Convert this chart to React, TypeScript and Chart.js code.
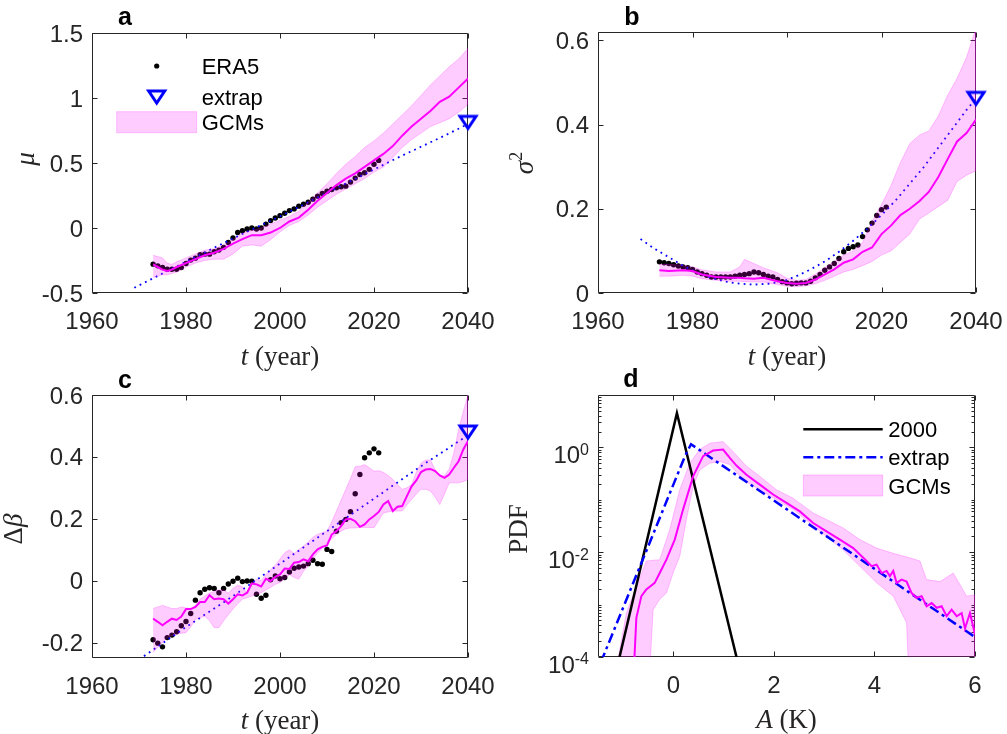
import React, { useEffect, useRef } from 'react';
import { Chart, registerables } from 'chart.js';
Chart.register(...registerables);

// ---------------- DATA ----------------
const ERA5_YEARS = [1973, 1974, 1975, 1976, 1977, 1978, 1979, 1980, 1981, 1982, 1983, 1984, 1985, 1986, 1987, 1988, 1989, 1990, 1991, 1992, 1993, 1994, 1995, 1996, 1997, 1998, 1999, 2000, 2001, 2002, 2003, 2004, 2005, 2006, 2007, 2008, 2009, 2010, 2011, 2012, 2013, 2014, 2015, 2016, 2017, 2018, 2019, 2020, 2021];
const ERA5_MU = [-0.278, -0.291, -0.304, -0.317, -0.317, -0.317, -0.304, -0.273, -0.247, -0.232, -0.206, -0.201, -0.201, -0.183, -0.17, -0.149, -0.111, -0.077, -0.034, -0.021, -0.008, 0.0, -0.008, 0.0, 0.03, 0.057, 0.077, 0.095, 0.113, 0.134, 0.147, 0.168, 0.183, 0.198, 0.222, 0.245, 0.265, 0.283, 0.296, 0.309, 0.317, 0.322, 0.353, 0.384, 0.412, 0.425, 0.451, 0.49, 0.52];
const ERA5_SIGMA2 = [0.074, 0.072, 0.07, 0.067, 0.064, 0.062, 0.06, 0.056, 0.05, 0.046, 0.042, 0.038, 0.038, 0.038, 0.038, 0.038, 0.04, 0.042, 0.044, 0.046, 0.05, 0.048, 0.044, 0.04, 0.038, 0.032, 0.027, 0.024, 0.022, 0.023, 0.024, 0.024, 0.028, 0.036, 0.044, 0.054, 0.062, 0.07, 0.082, 0.098, 0.106, 0.11, 0.114, 0.134, 0.15, 0.166, 0.184, 0.198, 0.204];
const ERA5_DBETA = [-0.191, -0.202, -0.214, -0.184, -0.176, -0.165, -0.146, -0.132, -0.106, -0.063, -0.039, -0.028, -0.023, -0.025, -0.039, -0.025, -0.011, -0.002, 0.008, -0.003, -0.001, -0.002, -0.044, -0.057, -0.047, 0.003, 0.015, 0.006, 0.01, 0.028, 0.04, 0.044, 0.047, 0.055, 0.066, 0.055, 0.053, 0.101, 0.094, 0.16, 0.187, 0.198, 0.223, 0.281, 0.343, 0.397, 0.413, 0.426, 0.413];

// panel a: GCM ensemble
const GCM_A_YEARS = [1973, 1974, 1975, 1976, 1977, 1978, 1980, 1982, 1984, 1986, 1988, 1990, 1992, 1994, 1996, 1998, 2000, 2002, 2004, 2006, 2008, 2010, 2012, 2014, 2016, 2018, 2020, 2022, 2024, 2026, 2028, 2030, 2032, 2034, 2036, 2038, 2040];
const GCM_A_MEAN = [-0.28, -0.3, -0.32, -0.33, -0.32, -0.3, -0.27, -0.24, -0.21, -0.19, -0.16, -0.12, -0.085, -0.055, -0.055, -0.035, 0.0, 0.05, 0.08, 0.14, 0.21, 0.27, 0.33, 0.38, 0.42, 0.47, 0.52, 0.57, 0.63, 0.71, 0.78, 0.84, 0.9, 0.97, 1.01, 1.08, 1.15];
const GCM_A_UPPER = [-0.21, -0.22, -0.23, -0.27, -0.28, -0.26, -0.23, -0.2, -0.17, -0.16, -0.13, -0.09, -0.04, -0.02, 0.0, 0.03, 0.06, 0.09, 0.13, 0.2, 0.27, 0.34, 0.42, 0.49, 0.55, 0.62, 0.67, 0.73, 0.8, 0.87, 0.94, 1.02, 1.1, 1.17, 1.24, 1.3, 1.38];
const GCM_A_LOWER = [-0.38, -0.37, -0.36, -0.36, -0.35, -0.34, -0.3, -0.27, -0.25, -0.24, -0.24, -0.2, -0.14, -0.13, -0.14, -0.09, -0.03, 0.02, 0.05, 0.1, 0.16, 0.21, 0.26, 0.3, 0.34, 0.38, 0.43, 0.47, 0.54, 0.62, 0.68, 0.73, 0.78, 0.81, 0.84, 0.89, 0.95];
const EXTRAP_A_YEARS = [1969, 1975, 1980, 1985, 1990, 1995, 2000, 2005, 2010, 2015, 2020, 2025, 2030, 2035, 2040];
const EXTRAP_A_VALUES = [-0.46, -0.35, -0.26, -0.17, -0.08, 0.005, 0.09, 0.18, 0.27, 0.36, 0.45, 0.54, 0.625, 0.71, 0.8];
const EXTRAP_A_2040 = 0.805;

// panel b
const GCM_B_YEARS = [1973, 1975, 1978, 1980, 1982, 1985, 1988, 1990, 1991, 1993, 1995, 1998, 2000, 2002, 2004, 2006, 2008, 2010, 2012, 2014, 2016, 2018, 2020, 2022, 2024, 2026, 2028, 2030, 2032, 2034, 2036, 2038, 2040];
const GCM_B_MEAN = [0.054, 0.052, 0.054, 0.052, 0.044, 0.038, 0.036, 0.036, 0.035, 0.034, 0.036, 0.028, 0.024, 0.022, 0.024, 0.032, 0.044, 0.056, 0.072, 0.08, 0.098, 0.108, 0.14, 0.16, 0.185, 0.2, 0.218, 0.24, 0.275, 0.318, 0.36, 0.38, 0.412];
const GCM_B_UPPER = [0.068, 0.068, 0.066, 0.062, 0.055, 0.05, 0.05, 0.062, 0.08, 0.07, 0.06, 0.048, 0.035, 0.03, 0.032, 0.045, 0.06, 0.075, 0.09, 0.1, 0.12, 0.17, 0.21, 0.255, 0.31, 0.355, 0.375, 0.385, 0.42, 0.47, 0.51, 0.56, 0.63];
const GCM_B_LOWER = [0.04, 0.04, 0.042, 0.04, 0.034, 0.03, 0.028, 0.028, 0.027, 0.026, 0.026, 0.02, 0.016, 0.015, 0.017, 0.022, 0.03, 0.04, 0.05, 0.056, 0.065, 0.075, 0.09, 0.1, 0.12, 0.14, 0.175, 0.19, 0.205, 0.22, 0.265, 0.28, 0.29];
const EXTRAP_B_YEARS = [1969, 1972, 1975, 1978, 1981, 1984, 1987, 1990, 1993, 1996, 1999, 2002, 2005, 2008, 2011, 2014, 2017, 2020, 2023, 2026, 2029, 2032, 2035, 2038, 2040];
const EXTRAP_B_VALUES = [0.128, 0.105, 0.085, 0.065, 0.048, 0.036, 0.027, 0.022, 0.02, 0.022, 0.027, 0.04, 0.056, 0.075, 0.098, 0.124, 0.153, 0.185, 0.22, 0.26, 0.3, 0.345, 0.39, 0.435, 0.462];
const EXTRAP_B_2040 = 0.46;

// panel c
const GCM_C_YEARS = [1973, 1974, 1975, 1976, 1977, 1978, 1979, 1980, 1981, 1982, 1983, 1984, 1985, 1986, 1987, 1988, 1989, 1990, 1991, 1992, 1993, 1994, 1995, 1996, 1997, 1998, 1999, 2000, 2001, 2002, 2003, 2004, 2005, 2006, 2007, 2008, 2009, 2010, 2011, 2012, 2013, 2014, 2015, 2016, 2017, 2018, 2019, 2020, 2021, 2022, 2023, 2024, 2025, 2026, 2027, 2028, 2029, 2030, 2031, 2032, 2033, 2034, 2035, 2036, 2037, 2038, 2039, 2040];
const GCM_C_MEAN = [-0.123, -0.133, -0.144, -0.133, -0.123, -0.127, -0.116, -0.092, -0.092, -0.085, -0.069, -0.069, -0.047, -0.06, -0.058, -0.06, -0.074, -0.06, -0.044, -0.048, -0.039, -0.009, -0.012, -0.019, 0.006, -0.001, 0.012, 0.02, 0.039, 0.038, 0.058, 0.06, 0.069, 0.063, 0.085, 0.101, 0.109, 0.114, 0.149, 0.16, 0.176, 0.198, 0.2, 0.192, 0.174, 0.182, 0.198, 0.209, 0.222, 0.246, 0.257, 0.225, 0.239, 0.241, 0.273, 0.305, 0.324, 0.351, 0.359, 0.361, 0.354, 0.34, 0.332, 0.343, 0.365, 0.386, 0.424, 0.451];
const GCM_C_UPPER = [-0.09, -0.085, -0.08, -0.085, -0.09, -0.09, -0.085, -0.088, -0.09, -0.08, -0.06, -0.05, -0.04, -0.035, -0.03, -0.03, -0.04, -0.025, -0.015, -0.02, -0.04, -0.01, 0.005, 0.0, 0.02, 0.035, 0.05, 0.07, 0.09, 0.1, 0.088, 0.1, 0.112, 0.125, 0.14, 0.15, 0.155, 0.16, 0.19, 0.225, 0.26, 0.295, 0.33, 0.368, 0.37, 0.375, 0.365, 0.354, 0.355, 0.35, 0.34, 0.327, 0.31, 0.295, 0.3, 0.31, 0.35, 0.38, 0.39, 0.39, 0.36, 0.337, 0.34, 0.36, 0.413, 0.488, 0.547, 0.6];
const GCM_C_LOWER = [-0.232, -0.215, -0.2, -0.185, -0.178, -0.173, -0.17, -0.168, -0.15, -0.125, -0.12, -0.115, -0.13, -0.152, -0.152, -0.13, -0.11, -0.092, -0.075, -0.06, -0.055, -0.05, -0.045, -0.039, -0.03, -0.022, -0.012, -0.006, 0.005, 0.02, 0.01, 0.005, 0.03, 0.047, 0.07, 0.09, 0.105, 0.123, 0.135, 0.15, 0.16, 0.168, 0.17, 0.17, 0.172, 0.172, 0.172, 0.171, 0.195, 0.219, 0.222, 0.225, 0.225, 0.225, 0.245, 0.262, 0.28, 0.295, 0.295, 0.29, 0.27, 0.246, 0.28, 0.316, 0.316, 0.316, 0.32, 0.327];
const EXTRAP_C_YEARS = [1970, 1980, 1990, 2000, 2010, 2020, 2030, 2040];
const EXTRAP_C_VALUES = [-0.255, -0.15, -0.05, 0.055, 0.16, 0.265, 0.37, 0.47];
const EXTRAP_C_2040 = 0.477;

// panel d: PDFs
const Y2000_D_A = [-1.2, 0.07, 1.4];
const Y2000_D_PDF = [3e-5, 4.5, 2.7e-5];
const EXTRAP_D_A = [-1.6, 0.23, 0.35, 6.0];
const EXTRAP_D_PDF = [3.4e-5, 0.68, 1.15, 2.4e-4];
const GCM_D_A = [-0.8, -0.737, -0.637, -0.538, -0.372, -0.272, -0.139, 0.027, 0.192, 0.392, 0.591, 0.79, 0.989, 1.122, 1.254, 1.453, 1.719, 1.984, 2.25, 2.515, 2.781, 3.046, 3.312, 3.577, 3.843, 3.943, 4.042, 4.141, 4.241, 4.307, 4.374, 4.44, 4.54, 4.639, 4.739, 4.838, 4.938, 5.037, 5.137, 5.237, 5.336, 5.436, 5.535, 5.635, 5.734, 5.801, 5.9, 6.0];
const GCM_D_PDF = [3e-5, 5.6e-4, 1.45e-3, 1.95e-3, 2.6e-3, 4.0e-3, 7.2e-3, 0.0174, 0.065, 0.28, 0.68, 0.87, 0.91, 0.63, 0.45, 0.3, 0.195, 0.126, 0.087, 0.06, 0.036, 0.025, 0.0174, 0.012, 0.0068, 0.0054, 0.0058, 0.004, 0.0044, 0.0035, 0.0044, 0.0026, 0.003, 0.00275, 0.00166, 0.00135, 0.00145, 0.00093, 0.00107, 0.00087, 0.00093, 0.0006, 0.0008, 0.0006, 0.00069, 0.00035, 0.00069, 0.00027];
const GCM_D_UPPER_A = [-1.15, -0.936, -0.737, -0.538, -0.272, -0.073, 0.126, 0.325, 0.524, 0.723, 0.989, 1.188, 1.453, 1.719, 2.051, 2.383, 2.781, 3.046, 3.378, 3.71, 4.042, 4.374, 4.706, 4.905, 5.037, 5.303, 5.568, 5.834, 6.0];
const GCM_D_UPPER_PDF = [5e-5, 6.9e-4, 2.2e-3, 6.8e-3, 7.2e-3, 0.027, 0.155, 0.5, 0.91, 1.2, 1.29, 0.83, 0.44, 0.28, 0.155, 0.107, 0.056, 0.042, 0.029, 0.0174, 0.012, 0.0095, 0.0078, 0.0068, 0.003, 0.00275, 0.004, 0.00145, 0.00155];
const GCM_D_LOWER_A = [-0.47, -0.405, -0.272, -0.139, -0.007, 0.126, 0.259, 0.392, 0.524, 0.723, 0.923, 1.122, 1.387, 1.719, 2.051, 2.383, 2.715, 3.046, 3.378, 3.71, 4.042, 4.374, 4.639, 4.68, 6.0];
const GCM_D_LOWER_PDF = [5e-5, 7.9e-4, 1.26e-3, 1.66e-3, 4e-3, 8.3e-3, 0.042, 0.18, 0.37, 0.5, 0.54, 0.47, 0.24, 0.155, 0.1, 0.065, 0.036, 0.02, 0.011, 0.0054, 0.0026, 0.00145, 4.5e-4, 5e-5, 5e-5];

// ticks
const YEAR_TICKS = [1960, 1980, 2000, 2020, 2040];
const YEAR_TICK_LABELS = ['1960', '1980', '2000', '2020', '2040'];
const MU_TICKS = [-0.5, 0, 0.5, 1, 1.5];
const MU_TICK_LABELS = ['-0.5', '0', '0.5', '1', '1.5'];
const SIGMA_TICKS = [0, 0.2, 0.4, 0.6];
const SIGMA_TICK_LABELS = ['0', '0.2', '0.4', '0.6'];
const BETA_TICKS = [-0.2, 0, 0.2, 0.4, 0.6];
const BETA_TICK_LABELS = ['-0.2', '0', '0.2', '0.4', '0.6'];
const A_TICKS = [0, 2, 4, 6];
const A_TICK_LABELS = ['0', '2', '4', '6'];
const PDF_TICKS = [1e-4, 1e-2, 1];
const PDF_TICK_EXPONENTS = ['-4', '-2', '0'];

// ---------------- STYLE ----------------
const AXIS_COLOR = '#262626';
const BLUE = '#0000ff';
const MAGENTA = '#ff00ff';
const PINK = 'rgba(255,0,255,0.2)';
const PINK_EDGE = 'rgba(255,0,255,0.22)';
const TICK_FONT = '24px "Liberation Sans", Arial, sans-serif';
const SUP_FONT = '16px "Liberation Sans", Arial, sans-serif';
const LEG_FONT = '22px "Liberation Sans", Arial, sans-serif';
const LETTER_FONT = 'bold 25px "Liberation Sans", Arial, sans-serif';
const SERIF = '"Liberation Serif", "Times New Roman", serif';
const TI = 'italic 27px ' + SERIF;
const TN = '27px ' + SERIF;
const TS = '18px ' + SERIF;

type Run = { text: string; font: string; dy?: number };

function drawRuns(ctx: CanvasRenderingContext2D, runs: Run[], x: number, y: number, rotate: boolean) {
  ctx.save();
  ctx.translate(x, y);
  if (rotate) ctx.rotate(-Math.PI / 2);
  ctx.textAlign = 'left';
  ctx.textBaseline = 'alphabetic';
  let total = 0;
  const ws = runs.map((r) => {
    ctx.font = r.font;
    const w = ctx.measureText(r.text).width;
    total += w;
    return w;
  });
  let cx = -total / 2;
  runs.forEach((r, i) => {
    ctx.font = r.font;
    ctx.fillText(r.text, cx, r.dy || 0);
    cx += ws[i];
  });
  ctx.restore();
}

function drawTriangle(g: CanvasRenderingContext2D, cx: number, cy: number) {
  g.save();
  g.strokeStyle = BLUE;
  g.lineWidth = 3;
  g.lineJoin = 'miter';
  g.beginPath();
  g.moveTo(cx - 8, cy - 7);
  g.lineTo(cx + 8, cy - 7);
  g.lineTo(cx, cy + 5);
  g.closePath();
  g.stroke();
  g.restore();
}

function makeTriangleImage(): HTMLCanvasElement {
  const c = document.createElement('canvas');
  c.width = 24;
  c.height = 20;
  const g = c.getContext('2d')!;
  drawTriangle(g, 12, 10);
  return c;
}

const pts = (xs: number[], ys: number[]) => xs.map((x, i) => ({ x, y: ys[i] }));
const bandPts = (xu: number[], yu: number[], xl: number[], yl: number[]) => [...pts(xu, yu), ...pts(xl, yl).reverse()];

const matlabPlugin = {
  id: 'matlab',
  beforeDatasetsDraw(chart: any, _args: any, o: any) {
    const ctx: CanvasRenderingContext2D = chart.ctx;
    const a = chart.chartArea;
    const xs = chart.scales.x;
    const ys = chart.scales.y;
    const L = Math.round(a.left) + 0.5, R = Math.round(a.right) - 0.5;
    const T = Math.round(a.top) + 0.5, B = Math.round(a.bottom) - 0.5;
    ctx.save();
    ctx.strokeStyle = AXIS_COLOR;
    ctx.lineWidth = 1;
    ctx.beginPath();
    ctx.rect(L, T, R - L, B - T);
    const TL = 5;
    for (const v of o.xTicks) {
      const px = Math.round(xs.getPixelForValue(v)) + 0.5;
      ctx.moveTo(px, B); ctx.lineTo(px, B - TL);
      ctx.moveTo(px, T); ctx.lineTo(px, T + TL);
    }
    for (const v of o.yTicks) {
      const py = Math.round(ys.getPixelForValue(v)) + 0.5;
      ctx.moveTo(L, py); ctx.lineTo(L + TL, py);
      ctx.moveTo(R, py); ctx.lineTo(R - TL, py);
    }
    if (o.logMinor) {
      for (let e = -4; e <= 0; e++) {
        for (let k = 1; k <= 9; k++) {
          const v = k * Math.pow(10, e);
          if (k === 1 && e % 2 === 0) continue;
          const py = Math.round(ys.getPixelForValue(v)) + 0.5;
          ctx.moveTo(L, py); ctx.lineTo(L + 3, py);
          ctx.moveTo(R, py); ctx.lineTo(R - 3, py);
        }
      }
    }
    ctx.stroke();

    // tick labels
    ctx.fillStyle = AXIS_COLOR;
    ctx.font = TICK_FONT;
    ctx.textBaseline = 'alphabetic';
    ctx.textAlign = 'center';
    o.xTicks.forEach((v: number, i: number) => {
      ctx.fillText(o.xLabels[i], xs.getPixelForValue(v), a.bottom + 35.5);
    });
    if (o.yExp) {
      o.yTicks.forEach((v: number, i: number) => {
        const py = ys.getPixelForValue(v);
        ctx.font = SUP_FONT;
        const ws = ctx.measureText(o.yExp[i]).width;
        ctx.font = TICK_FONT;
        const wb = ctx.measureText('10').width;
        const right = a.left - 9;
        ctx.textAlign = 'left';
        ctx.font = TICK_FONT;
        ctx.fillText('10', right - ws - wb, py + 15.6);
        ctx.font = SUP_FONT;
        ctx.fillText(o.yExp[i], right - ws, py + 7.3);
      });
    } else {
      ctx.textAlign = 'right';
      o.yTicks.forEach((v: number, i: number) => {
        ctx.fillText(o.yLabels[i], a.left - 9, ys.getPixelForValue(v) + 8.6);
      });
    }
    ctx.restore();
  },
  afterDatasetsDraw(chart: any, _args: any, o: any) {
    const ctx: CanvasRenderingContext2D = chart.ctx;
    ctx.save();
    // panel letter
    ctx.fillStyle = '#000';
    ctx.font = LETTER_FONT;
    ctx.textAlign = 'center';
    ctx.textBaseline = 'alphabetic';
    ctx.fillText(o.letter, o.letterPos[0], o.letterPos[1]);
    // axis titles
    ctx.fillStyle = AXIS_COLOR;
    drawRuns(ctx, o.xTitle, o.xTitlePos[0], o.xTitlePos[1], false);
    drawRuns(ctx, o.yTitle, o.yTitlePos[0], o.yTitlePos[1], true);
    // legend
    ctx.font = LEG_FONT;
    ctx.fillStyle = '#000';
    ctx.textAlign = 'left';
    ctx.textBaseline = 'alphabetic';
    if (o.legend === 'a') {
      ctx.beginPath();
      ctx.arc(156.7, 66, 2.6, 0, Math.PI * 2);
      ctx.fill();
      ctx.fillText('ERA5', 201.7, 66 + 8);
      drawTriangle(ctx, 156.7, 98);
      ctx.fillText('extrap', 201.7, 97 + 8);
      ctx.fillStyle = PINK;
      ctx.fillRect(116.7, 111.7, 80, 21);
      ctx.strokeStyle = PINK_EDGE;
      ctx.lineWidth = 1;
      ctx.strokeRect(116.7, 111.7, 80, 21);
      ctx.fillStyle = '#000';
      ctx.fillText('GCMs', 201.7, 122 + 8);
    } else if (o.legend === 'd') {
      ctx.strokeStyle = '#000';
      ctx.lineWidth = 2.5;
      ctx.beginPath();
      ctx.moveTo(300.3, 62.3); ctx.lineTo(379.7, 62.3);
      ctx.stroke();
      ctx.fillText('2000', 385.3, 62.3 + 8);
      ctx.strokeStyle = BLUE;
      ctx.setLineDash([10, 4, 3, 4]);
      ctx.beginPath();
      ctx.moveTo(300.3, 90.3); ctx.lineTo(379.7, 90.3);
      ctx.stroke();
      ctx.setLineDash([]);
      ctx.fillText('extrap', 385.3, 90.3 + 8);
      ctx.fillStyle = PINK;
      ctx.fillRect(300.3, 108, 79.4, 21);
      ctx.strokeStyle = PINK_EDGE;
      ctx.lineWidth = 1;
      ctx.strokeRect(300.3, 108, 79.4, 21);
      ctx.fillStyle = '#000';
      ctx.fillText('GCMs', 385.3, 118.5 + 8);
    }
    ctx.restore();
  },
};

type Panel = {
  key: string;
  rect: { left: number; top: number; w: number; h: number };
  area: { left: number; top: number; right: number; bottom: number };
  x: { min: number; max: number };
  y: { type: string; min: number; max: number };
  plugin: any;
  datasets: (tri: HTMLCanvasElement) => any[];
};

function timeDatasets(era5: number[], gx: number[], gm: number[], gu: number[], gl: number[], ex: number[], ey: number[], tri2040: number) {
  return (tri: HTMLCanvasElement) => [
    { data: pts([2040], [tri2040]), showLine: false, pointStyle: tri, pointRadius: 10, clip: false, order: 0 },
    { data: pts(gx, gm), borderColor: MAGENTA, borderWidth: 2, pointRadius: 0, order: 1 },
    { data: bandPts(gx, gu, gx, gl), fill: 'shape', backgroundColor: PINK, borderColor: PINK_EDGE, borderWidth: 1, pointRadius: 0, order: 2 },
    { data: pts(ex, ey), borderColor: BLUE, borderWidth: 1.8, borderDash: [1.8, 4.2], pointRadius: 0, fill: false, order: 3 },
    { data: pts(ERA5_YEARS, era5), showLine: false, pointRadius: 2.7, pointBackgroundColor: '#000', pointBorderColor: '#000', pointBorderWidth: 0, order: 4 },
  ];
}

const tYear: Run[] = [{ text: 't', font: TI }, { text: ' (year)', font: TN }];

const PANELS: Panel[] = [
  {
    key: 'a',
    rect: { left: 0, top: 0, w: 503, h: 380 },
    area: { left: 92, top: 33, right: 468, bottom: 293 },
    x: { min: 1960, max: 2040 },
    y: { type: 'linear', min: -0.5, max: 1.5 },
    plugin: {
      xTicks: YEAR_TICKS, xLabels: YEAR_TICK_LABELS, yTicks: MU_TICKS, yLabels: MU_TICK_LABELS,
      letter: 'a', letterPos: [125, 25], xTitle: tYear, xTitlePos: [280, 365],
      yTitle: [{ text: 'μ', font: TI }], yTitlePos: [34, 159], legend: 'a',
    },
    datasets: timeDatasets(ERA5_MU, GCM_A_YEARS, GCM_A_MEAN, GCM_A_UPPER, GCM_A_LOWER, EXTRAP_A_YEARS, EXTRAP_A_VALUES, EXTRAP_A_2040),
  },
  {
    key: 'b',
    rect: { left: 503, top: 0, w: 504, h: 380 },
    area: { left: 95, top: 32, right: 473, bottom: 293 },
    x: { min: 1960, max: 2040 },
    y: { type: 'linear', min: 0, max: 0.62 },
    plugin: {
      xTicks: YEAR_TICKS, xLabels: YEAR_TICK_LABELS, yTicks: SIGMA_TICKS, yLabels: SIGMA_TICK_LABELS,
      letter: 'b', letterPos: [129, 25], xTitle: tYear, xTitlePos: [284, 365],
      yTitle: [{ text: 'σ', font: TI }, { text: '2', font: TS, dy: -11 }], yTitlePos: [30, 163], legend: '',
    },
    datasets: timeDatasets(ERA5_SIGMA2, GCM_B_YEARS, GCM_B_MEAN, GCM_B_UPPER, GCM_B_LOWER, EXTRAP_B_YEARS, EXTRAP_B_VALUES, EXTRAP_B_2040),
  },
  {
    key: 'c',
    rect: { left: 0, top: 367, w: 503, h: 367 },
    area: { left: 92, top: 28, right: 468, bottom: 291 },
    x: { min: 1960, max: 2040 },
    y: { type: 'linear', min: -0.25, max: 0.6 },
    plugin: {
      xTicks: YEAR_TICKS, xLabels: YEAR_TICK_LABELS, yTicks: BETA_TICKS, yLabels: BETA_TICK_LABELS,
      letter: 'c', letterPos: [125, 21], xTitle: tYear, xTitlePos: [280, 362],
      yTitle: [{ text: 'Δ', font: TN }, { text: 'β', font: TI }], yTitlePos: [22, 162], legend: '',
    },
    datasets: timeDatasets(ERA5_DBETA, GCM_C_YEARS, GCM_C_MEAN, GCM_C_UPPER, GCM_C_LOWER, EXTRAP_C_YEARS, EXTRAP_C_VALUES, EXTRAP_C_2040),
  },
  {
    key: 'd',
    rect: { left: 503, top: 367, w: 504, h: 367 },
    area: { left: 95, top: 28, right: 472, bottom: 290 },
    x: { min: -1.5, max: 6 },
    y: { type: 'logarithmic', min: 1e-4, max: 10 },
    plugin: {
      xTicks: A_TICKS, xLabels: A_TICK_LABELS, yTicks: PDF_TICKS, yExp: PDF_TICK_EXPONENTS, logMinor: true,
      letter: 'd', letterPos: [128, 20], xTitle: [{ text: 'A', font: TI }, { text: ' (K)', font: TN }], xTitlePos: [283.5, 361],
      yTitle: [{ text: 'PDF', font: TN }], yTitlePos: [24, 162], legend: 'd',
    },
    datasets: () => [
      { data: pts(GCM_D_A, GCM_D_PDF), borderColor: MAGENTA, borderWidth: 2, pointRadius: 0, order: 1 },
      { data: pts(EXTRAP_D_A, EXTRAP_D_PDF), borderColor: BLUE, borderWidth: 2.5, borderDash: [10, 4, 3, 4], pointRadius: 0, order: 2 },
      { data: pts(Y2000_D_A, Y2000_D_PDF), borderColor: '#000', borderWidth: 2.5, pointRadius: 0, order: 3 },
      { data: bandPts(GCM_D_UPPER_A, GCM_D_UPPER_PDF, GCM_D_LOWER_A, GCM_D_LOWER_PDF), fill: 'shape', backgroundColor: PINK, borderColor: PINK_EDGE, borderWidth: 1, pointRadius: 0, order: 4 },
    ],
  },
];

function PanelChart({ p }: { p: Panel }) {
  const ref = useRef<HTMLCanvasElement | null>(null);
  useEffect(() => {
    if (!ref.current) return;
    const tri = makeTriangleImage();
    const { w, h } = p.rect;
    const chart = new Chart(ref.current, {
      type: 'line',
      data: { datasets: p.datasets(tri) as any },
      options: {
        animation: false,
        responsive: false,
        devicePixelRatio: 1,
        events: [],
        layout: { padding: { left: 0, top: p.area.top, right: w - p.area.right, bottom: 0 } },
        elements: { line: { tension: 0 }, point: { radius: 0 } },
        scales: {
          x: {
            type: 'linear', min: p.x.min, max: p.x.max,
            grid: { display: false }, border: { display: false }, ticks: { display: false },
            afterFit: (s: any) => { s.height = h - p.area.bottom; },
          },
          y: {
            type: p.y.type as any, min: p.y.min, max: p.y.max,
            grid: { display: false }, border: { display: false }, ticks: { display: false },
            afterFit: (s: any) => { s.width = p.area.left; },
          },
        },
        plugins: {
          legend: { display: false },
          tooltip: { enabled: false },
          matlab: p.plugin,
        } as any,
      },
      plugins: [matlabPlugin as any],
    });
    return () => chart.destroy();
  }, [p]);
  return (
    <canvas
      ref={ref}
      width={p.rect.w}
      height={p.rect.h}
      style={{ position: 'absolute', left: p.rect.left, top: p.rect.top, width: p.rect.w, height: p.rect.h }}
    />
  );
}

export default function App() {
  return (
    <div style={{ position: 'absolute', left: 0, top: 0, width: 1007, height: 734, background: '#fff', overflow: 'hidden' }}>
      {PANELS.map((p) => (
        <PanelChart key={p.key} p={p} />
      ))}
    </div>
  );
}
